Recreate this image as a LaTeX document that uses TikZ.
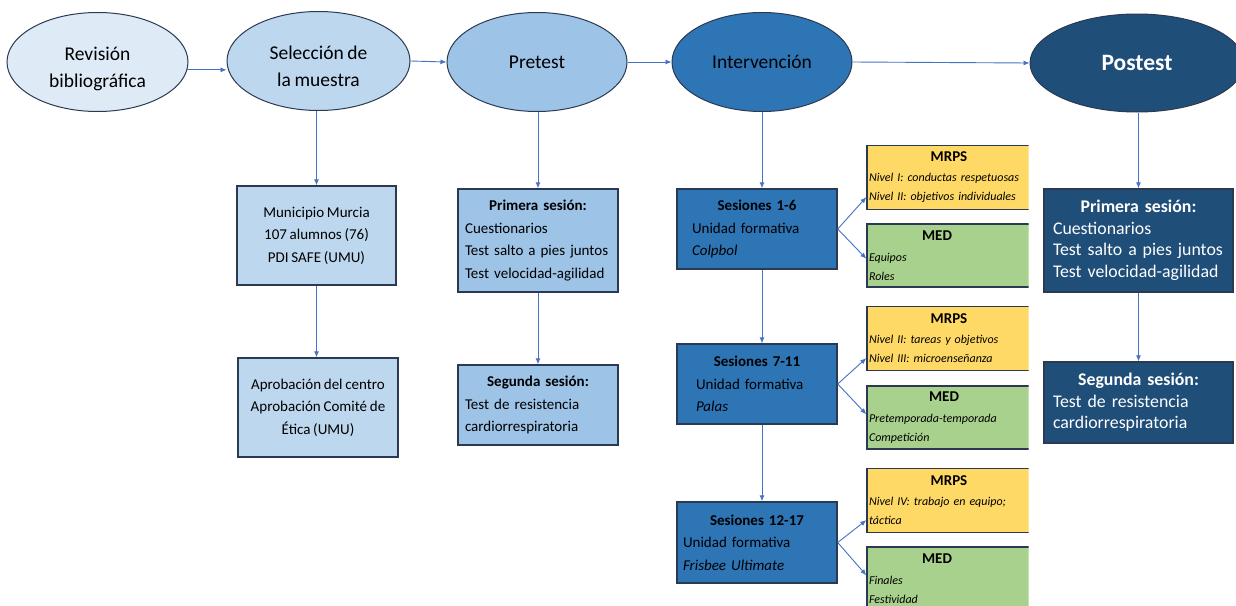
\documentclass[tikz,border=0pt]{standalone}
\usepackage{fontspec}
\setmainfont{Carlito}[WordSpace=0.8]
\usetikzlibrary{shapes.geometric,arrows.meta,calc}
\definecolor{fillA}{HTML}{DEEBF7}
\definecolor{fillB}{HTML}{BDD7EE}
\definecolor{fillC}{HTML}{9DC3E6}
\definecolor{fillD}{HTML}{2E75B6}
\definecolor{fillE}{HTML}{1F4E79}
\definecolor{fillY}{HTML}{FFD966}
\definecolor{fillG}{HTML}{A9D18E}
\definecolor{edgec}{HTML}{2B3A52}
\definecolor{arrowc}{HTML}{4472C4}
\newcommand{\lowtxt}[1]{\raisebox{0pt}[\dimexpr\height+14pt\relax]{\begin{tabular}{@{}c@{}}#1\end{tabular}}}
\begin{document}
\begin{tikzpicture}[x=1pt,y=-1pt,
  ell/.style={ellipse,draw=edgec,line width=1pt,inner sep=0pt,minimum width=181pt,minimum height=99pt,align=center,font=\fontsize{19.5}{27}\selectfont},
  box/.style={rectangle,draw=edgec,line width=1.4pt,inner ysep=0pt,font=\fontsize{15}{22.5}\selectfont},
  tagbox/.style={rectangle,draw=edgec,line width=1.4pt,inner ysep=0pt,inner xsep=2pt,text width=160pt,minimum width=164pt,minimum height=64pt,align=left,font=\itshape\fontsize{12}{19}\selectfont},
  arr/.style={draw=arrowc,line width=0.9pt,-{Latex[length=6pt,width=5pt]}}
]
\useasboundingbox (0,0) rectangle (1236,605);
\fill[white] (0,0) rectangle (1236,605);

% ellipses
\node[ell,fill=fillA] (rev) at (97.5,62) {\lowtxt{Revisión\\bibliográfica}};
\node[ell,fill=fillB,minimum width=183pt] (sel) at (318.5,61) {\lowtxt{Selección de\\la muestra}};
\node[ell,fill=fillC,minimum width=180pt] (pre) at (537,62) {Pretest};
\node[ell,fill=fillD,minimum width=180pt] (int) at (762,62) {Intervención};
\node[ell,fill=fillE,minimum width=214pt,minimum height=98pt,text=white,font=\bfseries\fontsize{23.5}{27}\selectfont] (post) at (1137,63) {Postest};

% seleccion column
\node[box,fill=fillB,minimum width=159pt,minimum height=99pt,align=center] (mun) at (316.5,235.5) {Municipio Murcia\\107 alumnos (76)\\PDI SAFE (UMU)};
\node[box,fill=fillB,minimum width=160pt,minimum height=99pt,align=center] (apr) at (318,407.5) {Aprobación del centro\\Aprobación Comité de\\Ética (UMU)};

% pretest column
\node[box,fill=fillC,minimum width=160pt,minimum height=103pt,inner xsep=7pt,text width=146pt,align=left] (pr1) at (538,240.5) {{\centering\bfseries Primera sesión:\par}Cuestionarios\\\mbox{Test salto a pies juntos}\\\mbox{Test velocidad-agilidad}};
\node[box,fill=fillC,minimum width=160pt,minimum height=80pt,inner xsep=7pt,text width=146pt,align=left] (pr2) at (538,405) {{\centering\bfseries Segunda sesión:\par}Test de resistencia\\cardiorrespiratoria};

% intervencion column
\node[box,fill=fillD,minimum width=160pt,minimum height=80pt,inner xsep=15pt,text width=130pt,align=left] (s1) at (757,229) {{\centering\bfseries Sesiones 1-6\par}Unidad formativa\\\textit{Colpbol}};
\node[box,fill=fillD,minimum width=160pt,minimum height=80pt,inner xsep=19pt,text width=122pt,align=left] (s2) at (757,384) {{\centering\bfseries Sesiones 7-11\par}Unidad formativa\\\textit{Palas}};
\node[box,fill=fillD,minimum width=160pt,minimum height=81pt,inner xsep=6pt,text width=148pt,align=left] (s3) at (757,542.5) {{\centering\bfseries Sesiones 12-17\par}Unidad formativa\\\textit{Frisbee Ultimate}};

\begin{scope}
\clip (0,0) rectangle (1028.5,605);
\node[tagbox,fill=fillY] (m1) at (949,177.5) {{\centering\upshape\bfseries\fontsize{15}{19}\selectfont MRPS\par}\vspace{1pt}\mbox{Nivel I: conductas respetuosas}\\\mbox{Nivel II: objetivos individuales}};
\node[tagbox,fill=fillG,minimum height=63pt] (d1) at (949,255.5) {{\centering\upshape\bfseries\fontsize{15}{19}\selectfont\hspace*{-24pt}MED\par}\vspace{2pt}Equipos\\Roles};
\node[tagbox,fill=fillY] (m2) at (949,338.5) {{\centering\upshape\bfseries\fontsize{15}{19}\selectfont MRPS\par}\vspace{1pt}\mbox{Nivel II: tareas y objetivos}\\\mbox{Nivel III: microenseñanza}};
\node[tagbox,fill=fillG,minimum height=63pt] (d2) at (949,417.5) {{\centering\upshape\bfseries\fontsize{15}{19}\selectfont\hspace*{-10pt}MED\par}\vspace{2pt}\mbox{Pretemporada-temporada}\\Competición};
\node[tagbox,fill=fillY] (m3) at (949,500.5) {{\centering\upshape\bfseries\fontsize{15}{19}\selectfont MRPS\par}\vspace{1pt}\mbox{Nivel IV: trabajo en equipo;}\\táctica};
\node[tagbox,fill=fillG,minimum height=63pt] (d3) at (949,578.5) {{\centering\upshape\bfseries\fontsize{15}{19}\selectfont\hspace*{-24pt}MED\par}\vspace{2pt}Finales\\Festividad};
\end{scope}

% postest column
\node[box,fill=fillE,text=white,minimum width=189pt,minimum height=103pt,inner xsep=9pt,text width=171pt,align=left,font=\fontsize{17.8}{21.5}\selectfont] (pp1) at (1138.5,240.5) {{\centering\bfseries Primera sesión:\par}Cuestionarios\\\mbox{Test salto a pies juntos}\\\mbox{Test velocidad-agilidad}};
\node[box,fill=fillE,text=white,minimum width=189pt,minimum height=81pt,inner xsep=9pt,text width=171pt,align=left,font=\fontsize{17.8}{21.5}\selectfont] (pp2) at (1138.5,402.5) {{\centering\bfseries Segunda sesión:\par}Test de resistencia\\cardiorrespiratoria};

% connectors
\draw[arr] (rev.-5) -- (rev.-5 -| sel.west);
\draw[arr] (sel.east) -- (pre.west);
\draw[arr] (pre.east) -- (int.west);
\draw[arr] (int.east) -- (post.west);
\draw[arr] (mun.north |- sel.south) -- (mun.north);
\draw[arr] (mun.south) -- (mun.south |- apr.north);
\draw[arr] (pr1.north |- pre.south) -- (pr1.north);
\draw[arr] (pr1.south) -- (pr2.north);
\draw[arr] (int.south) -- (int.south |- s1.north);
\draw[arr] (int.south |- s1.south) -- (int.south |- s2.north);
\draw[arr] (int.south |- s2.south) -- (int.south |- s3.north);
\draw[arr] (pp1.north |- post.south) -- (pp1.north);
\draw[arr] (pp1.south) -- (pp2.north);
\draw[arr] (s1.east) -- ($(m1.south west)!0.2!(m1.north west)$);
\draw[arr] (s1.east) -- ($(d1.south west)!0.45!(d1.north west)$);
\draw[arr] (s2.east) -- ($(m2.south west)!0.2!(m2.north west)$);
\draw[arr] (s2.east) -- ($(d2.south west)!0.55!(d2.north west)$);
\draw[arr] (s3.east) -- ($(m3.south west)!0.2!(m3.north west)$);
\draw[arr] (s3.east) -- ($(d3.south west)!0.55!(d3.north west)$);
\end{tikzpicture}
\end{document}
